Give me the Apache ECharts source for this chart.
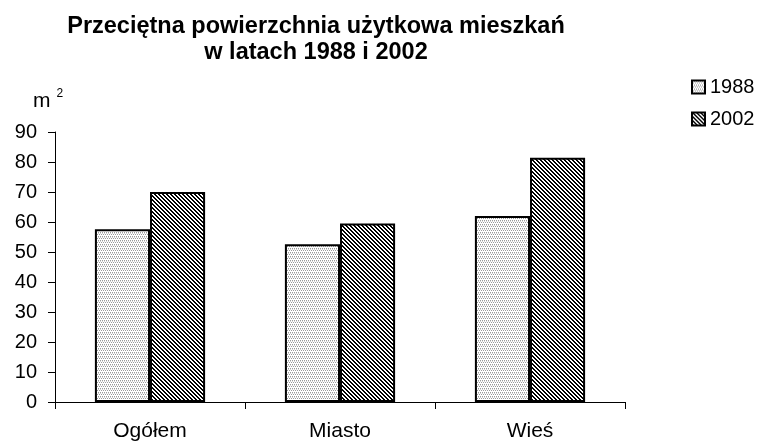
<!DOCTYPE html>
<html>
<head>
<meta charset="utf-8">
<script src="https://cdn.jsdelivr.net/npm/echarts@6/dist/echarts.min.js"></script>
<style>
  html, body { margin: 0; padding: 0; background: #fff; }
  #main { width: 759px; height: 443px; }
</style>
</head>
<body>
<div id="main"></div>
<script>
// dane z wykresu
var categories = ['Ogółem', 'Miasto', 'Wieś'];
var years = ['1988', '2002'];
var values1988 = [57.6, 52.6, 62.0];
var values2002 = [70.0, 59.5, 81.4];
var yTicks = [0, 10, 20, 30, 40, 50, 60, 70, 80, 90];

// wzór kropkowany (1988)
function dotPattern() {
  var c = document.createElement('canvas');
  c.width = 4; c.height = 4;
  var ctx = c.getContext('2d');
  ctx.fillStyle = '#ffffff';
  ctx.fillRect(0, 0, 4, 4);
  ctx.fillStyle = '#9a9a9a';
  ctx.fillRect(0, 0, 1, 1);
  ctx.fillRect(2, 0, 1, 1);
  ctx.fillRect(1, 2, 1, 1);
  ctx.fillRect(3, 2, 1, 1);
  ctx.fillStyle = '#d4d4d4';
  ctx.fillRect(0, 1, 1, 1);
  ctx.fillRect(2, 1, 1, 1);
  return c;
}
// wzór ukośny (2002)
function stripePattern() {
  var c = document.createElement('canvas');
  c.width = 4; c.height = 4;
  var ctx = c.getContext('2d');
  ctx.fillStyle = '#ffffff';
  ctx.fillRect(0, 0, 4, 4);
  ctx.fillStyle = '#000000';
  for (var y = 0; y < 4; y++) {
    for (var x = 0; x < 4; x++) {
      var d = ((x - y) % 4 + 4) % 4;
      if (d === 0 || d === 1) ctx.fillRect(x, y, 1, 1);
    }
  }
  return c;
}

var myChart = echarts.init(document.getElementById('main'));
var font = 'Liberation Sans, Arial, sans-serif';

var option = {
  animation: false,
  backgroundColor: '#ffffff',
  title: {
    text: 'Przeciętna powierzchnia użytkowa mieszkań\nw latach 1988 i 2002',
    left: 311,
    textAlign: 'center',
    top: 9,
    textStyle: {
      fontFamily: font,
      fontSize: 23.5,
      fontWeight: 'bold',
      color: '#000',
      lineHeight: 26
    }
  },
  legend: {
    data: years,
    orient: 'vertical',
    left: 686,
    top: 72,
    itemWidth: 13,
    itemHeight: 13,
    itemGap: 12,
    itemStyle: { borderWidth: 2 },
    icon: 'rect',
    textStyle: { fontFamily: font, fontSize: 20, color: '#000' }
  },
  grid: {
    left: 55,
    right: 134,
    top: 132,
    bottom: 41,
    containLabel: false
  },
  xAxis: {
    type: 'category',
    data: categories,
    axisLine: { lineStyle: { color: '#000', width: 1 } },
    axisTick: { show: true, alignWithLabel: false, length: 7, lineStyle: { color: '#000' } },
    axisLabel: { fontFamily: font, fontSize: 21, color: '#000', margin: 19 }
  },
  yAxis: {
    type: 'value',
    min: yTicks[0],
    max: yTicks[yTicks.length - 1],
    interval: 10,
    name: '{m|m}{s|2}',
    nameLocation: 'end',
    nameGap: 20,
    nameTextStyle: {
      align: 'center',
      padding: [0, 14, 0, 0],
      rich: {
        m: { fontFamily: font, fontSize: 21, color: '#000', verticalAlign: 'bottom' },
        s: { fontFamily: font, fontSize: 12, color: '#000', padding: [0, 0, 12, 6] }
      }
    },
    splitLine: { show: false },
    axisLine: { show: true, lineStyle: { color: '#000', width: 1 } },
    axisTick: { show: true, length: 7, lineStyle: { color: '#000' } },
    axisLabel: { fontFamily: font, fontSize: 20, color: '#000', margin: 18 }
  },
  series: [
    {
      name: years[0],
      type: 'bar',
      data: values1988,
      barGap: '0%',
      barCategoryGap: '42%',
      itemStyle: {
        color: { image: dotPattern(), repeat: 'repeat' },
        borderColor: '#000',
        borderWidth: 2
      }
    },
    {
      name: years[1],
      type: 'bar',
      data: values2002,
      barGap: '0%',
      barCategoryGap: '42%',
      itemStyle: {
        color: { image: stripePattern(), repeat: 'repeat' },
        borderColor: '#000',
        borderWidth: 2
      }
    }
  ]
};

myChart.setOption(option);
</script>
</body>
</html>
